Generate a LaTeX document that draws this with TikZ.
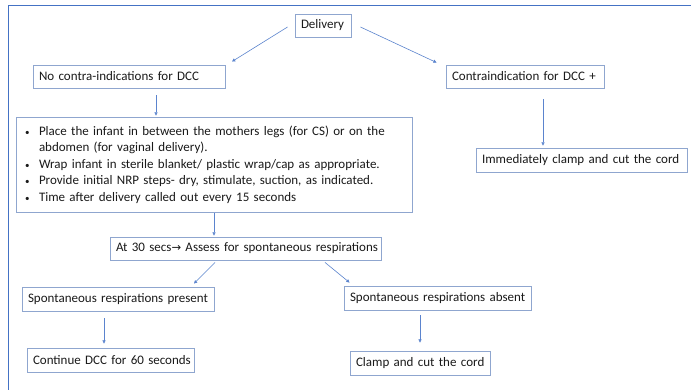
\documentclass[tikz,border=0pt]{standalone}
\usepackage{fontspec}
\setmainfont{Carlito}
\newfontfamily\dejavu{DejaVu Sans}
\usetikzlibrary{arrows.meta,calc}
\definecolor{frameblue}{HTML}{4472C4}
\definecolor{boxline}{HTML}{8FA6CF}
\definecolor{arrowblue}{HTML}{5B84CE}
\definecolor{txt}{HTML}{1A1A1A}
\tikzset{
  box/.style={draw=boxline, line width=0.9pt, inner xsep=6pt, inner ysep=0pt,
    text=txt, font=\fontsize{13}{16.6}\selectfont, align=left, anchor=center},
  arr/.style={draw=arrowblue, line width=0.6pt, -{Triangle[width=3.2pt,length=3.2pt]}}
}
\begin{document}
\begin{tikzpicture}[x=1pt,y=-1pt]
\useasboundingbox (0,0) rectangle (691,390);
\fill[white] (0,0) rectangle (691,390);
% outer frame
\draw[frameblue, line width=0.9pt] (691,5) -- (8,5) -- (8,390);

\node[box, minimum height=23pt, text width=44pt] (del) at (323,25.5) {\mbox{Delivery}};
\node[box, minimum height=23pt, text width=180pt] (noc) at (129,76.5) {\mbox{No contra-indications for DCC}};
\node[box, minimum height=23pt, text width=146pt] (con) at (525,76.5) {\mbox{Contraindication for DCC +}};
\node[box, minimum height=24pt, text width=199pt] (imm) at (581.5,160) {\mbox{Immediately clamp and cut the cord}};
\node[box, minimum height=95pt, inner xsep=9pt, text width=378pt] (bul) at (214,164.5)
  {\makebox[14pt][l]{\fontsize{9}{10}\selectfont •}\mbox{Place the infant in between the mothers legs (for CS) or on the}\\
   \hspace*{14pt}\mbox{abdomen (for vaginal delivery).}\\
   \makebox[14pt][l]{\fontsize{9}{10}\selectfont •}\mbox{Wrap infant in sterile blanket/ plastic wrap/cap as appropriate.}\\
   \makebox[14pt][l]{\fontsize{9}{10}\selectfont •}\mbox{Provide initial NRP steps- dry, stimulate, suction, as indicated.}\\
   \makebox[14pt][l]{\fontsize{9}{10}\selectfont •}\mbox{Time after delivery called out every 15 seconds}};
\node[box, minimum height=23pt, text width=259pt] (at30) at (245.5,248.5)
  {\mbox{At 30 secs{\dejavu\fontsize{11.5}{13}\selectfont →} Assess for spontaneous respirations}};
\node[box, minimum height=24pt, text width=180pt] (sp) at (118,299) {\mbox{Spontaneous respirations present}};
\node[box, minimum height=24pt, text width=175pt] (sa) at (437.5,298) {\mbox{Spontaneous respirations absent}};
\node[box, minimum height=24pt, text width=155pt] (cont) at (110.5,360) {\mbox{Continue DCC for 60 seconds}};
\node[box, minimum height=24pt, text width=128pt] (clamp) at (420,363) {\mbox{Clamp and cut the cord}};

\draw[arr] ($(del.west)+(-7,1.5)$) -- ($(noc.north)+(103,-3)$);
\draw[arr] ($(del.east)+(9,1.5)$) -- ($(con.north west)+(-9,-2)$);
\draw[arr] ($(noc.south)+(27,7)$) -- ($(bul.north)+(-58,-1)$);
\draw[arr] ($(con.south)+(18,11)$) -- ($(imm.north)+(-38.5,-2)$);
\draw[arr] ($(bul.south)+(0,0.5)$) -- ($(at30.north)+(-31.5,-1)$);
\draw[arr] ($(at30.south)+(-30.5,2)$) -- ($(sp.north)+(76,-3)$);
\draw[arr] ($(at30.south)+(79.5,2)$) -- ($(sa.north west)+(6,-3)$);
\draw[arr] ($(sp.south)+(-14,7)$) -- ($(cont.north)+(-6.5,-4)$);
\draw[arr] ($(sa.south)+(-17.5,5)$) -- ($(clamp.north)+(0,-8)$);
\end{tikzpicture}
\end{document}
